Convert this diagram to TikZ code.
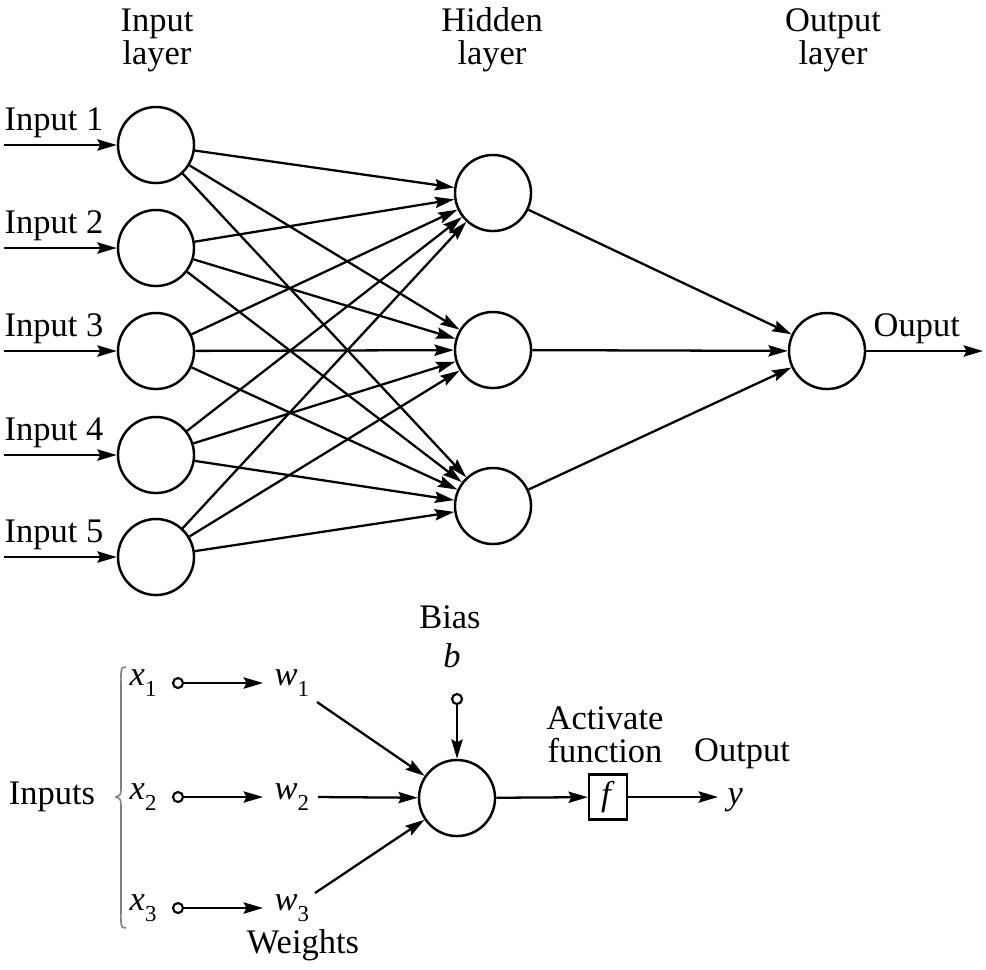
\documentclass[tikz,border=0pt]{standalone}
\usepackage{fontspec}
\setmainfont{Liberation Serif}
\usetikzlibrary{arrows.meta,positioning}
\newcommand{\isub}[2]{\textit{#1}\raisebox{-0.7ex}{\fontsize{6.5}{6.5}\selectfont #2}}

\begin{document}
\begin{tikzpicture}[x=0.01cm,y=-0.01cm,
  font=\fontsize{9.8}{9.4}\selectfont,
  neuron/.style={circle, draw, line width=0.7pt, minimum size=0.76cm, inner sep=0pt},
  conn/.style={line width=0.65pt, -{Stealth[length=5.5pt,width=3.2pt,inset=0.8pt]}},
  dot/.style={circle, draw, line width=0.6pt, minimum size=0.1cm, inner sep=0pt},
  lbl/.style={align=center, inner sep=0pt}]
  \useasboundingbox (0,0) rectangle (986,969);

  % layer titles
  \node[lbl] (tin) at (157,40) {Input\\layer};
  \node[lbl] (thid) at (492,40) {Hidden\\layer};
  \node[lbl] (tout) at (833,40) {Output\\layer};

  % input layer
  \foreach \i/\y in {1/145, 2/248, 3/351, 4/455, 5/557} {
    \node[neuron] (in\i) at (156,\y) {};
    \coordinate (src\i) at (4,\y);
    \node[anchor=base west, inner sep=0pt] (lab\i) at (4,\y-15) {Input \i};
    \draw[conn] (src\i) -- (in\i);
  }

  % hidden layer
  \foreach \j/\y in {1/193, 2/350, 3/506}
    \node[neuron] (hid\j) at (493,\y) {};

  % output layer
  \node[neuron] (out) at (827,351) {};
  \coordinate (outend) at (983,351);
  \draw[conn] (out) -- (outend);
  \node[anchor=base west, inner sep=0pt] (outlab) at (873,336) {Ouput};

  \foreach \i in {1,...,5}
    \foreach \j in {1,2,3}
      \draw[conn] (in\i) -- (hid\j);
  \foreach \j in {1,2,3}
    \draw[conn] (hid\j) -- (out);

  % single neuron
  \node[neuron] (cell) at (457,798) {};
  \node[dot] (bdot) at (457,699) {};
  \draw[conn] (bdot) -- (cell);
  \node[lbl] (bias) at (450,617) {Bias};
  \node[lbl] (bsym) at (452,656) {\textit{b}};

  \node[draw, line width=0.65pt, minimum width=0.38cm, minimum height=0.45cm, inner sep=0pt] (act) at (608,797) {\textit{f}};
  \draw[conn] (cell) -- (act);
  \coordinate (yend) at (718,797);
  \draw[conn] (act) -- (yend);
  \node[lbl, anchor=west] (ysym) at (727,800) {\textit{y}};
  \node[lbl] (actlab) at (605,735) {Activate\\function};
  \node[lbl] (outtxt) at (742,754) {Output};

  \foreach \k/\y in {1/683, 2/797, 3/908} {
    \node[anchor=west, inner sep=0pt] (x\k) at (129,\y) {\isub{x}{\k}};
    \node[dot] (xd\k) at (178,\y) {};
    \node[anchor=west, inner sep=0pt] (w\k) at (274,\y) {\isub{w}{\k}};
    \draw[conn] (xd\k) -- (263,\y);
  }
  \coordinate (e1) at (317,702);
  \coordinate (e3) at (315,893);
  \draw[conn] (e1) -- (cell);
  \draw[conn] (w2.east) ++(8,0) -- (cell);
  \draw[conn] (e3) -- (cell);

  \node[lbl] (inputs) at (52,797) {Inputs};
  \draw[gray, line width=0.45pt] (126,667) .. controls (120,667) and (121,670) .. (121,690)
    -- (121,785) .. controls (121,795) .. (116,797) .. controls (121,799) .. (121,809)
    -- (121,905) .. controls (121,926) and (120,928) .. (126,928);
  \node[lbl] (weights) at (303,945) {Weights};
\end{tikzpicture}
\end{document}
